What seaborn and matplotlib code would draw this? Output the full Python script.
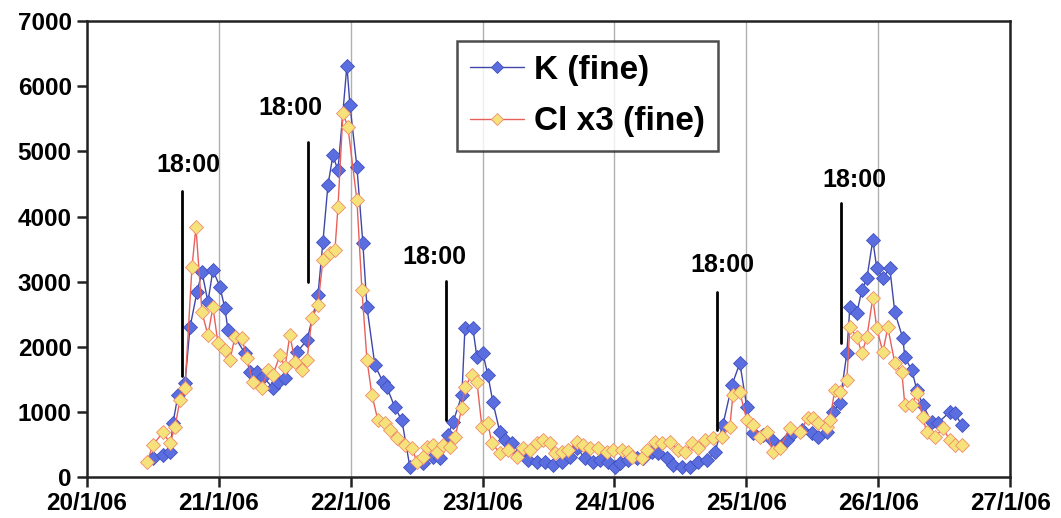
import numpy as np
import pandas as pd
import matplotlib
matplotlib.use("Agg")
import matplotlib.pyplot as plt
import seaborn as sns

# K (fine): time in fractional day of January 2006, concentration
k_day = [20.500, 20.576, 20.629, 20.652, 20.690, 20.743, 20.781, 20.834, 20.872, 20.917,
         20.955, 21.008, 21.046, 21.069, 21.122, 21.198, 21.236, 21.289, 21.334, 21.410,
         21.448, 21.501, 21.592, 21.668, 21.751, 21.789, 21.827, 21.865, 21.903, 21.971,
         21.994, 22.047, 22.092, 22.123, 22.183, 22.244, 22.274, 22.335, 22.388, 22.449,
         22.547, 22.623, 22.676, 22.737, 22.775, 22.843, 22.866, 22.926, 22.957, 23.002,
         23.040, 23.078, 23.131, 23.169, 23.222, 23.283, 23.343, 23.412, 23.472, 23.533,
         23.601, 23.662, 23.715, 23.776, 23.836, 23.889, 23.950, 24.003, 24.041, 24.102,
         24.170, 24.215, 24.284, 24.329, 24.397, 24.443, 24.511, 24.572, 24.632, 24.700,
         24.761, 24.822, 24.890, 24.951, 25.004, 25.049, 25.125, 25.193, 25.254, 25.307,
         25.353, 25.421, 25.497, 25.542, 25.610, 25.656, 25.709, 25.762, 25.785, 25.838,
         25.876, 25.914, 25.959, 25.989, 26.035, 26.088, 26.126, 26.187, 26.202, 26.255,
         26.293, 26.338, 26.406, 26.452, 26.543, 26.581, 26.634]
k_val = [290, 340, 380, 830, 1260, 1440, 2300, 2840, 3150, 2690,
         3180, 2920, 2590, 2260, 2150, 1900, 1610, 1610, 1540, 1370,
         1460, 1520, 1920, 2100, 2790, 3610, 4480, 4940, 4710, 6320,
         5710, 4760, 3590, 2610, 1720, 1460, 1380, 1070, 870, 150,
         210, 310, 290, 640, 840, 1260, 2290, 2290, 1840, 1900,
         1570, 1150, 690, 570, 520, 370, 260, 230, 230, 180,
         230, 310, 450, 290, 230, 260, 230, 150, 210, 260,
         290, 290, 380, 370, 290, 180, 150, 150, 230, 260,
         380, 800, 1410, 1750, 1070, 680, 640, 570, 460, 570,
         680, 720, 680, 610, 690, 1000, 1140, 1900, 2610, 2520,
         2870, 3050, 3640, 3210, 3050, 3210, 2530, 2130, 1840, 1640,
         1340, 1110, 840, 830, 1000, 980, 800]

# Cl x3 (fine)
cl_day = [20.455, 20.500, 20.576, 20.629, 20.667, 20.705, 20.743, 20.796, 20.826, 20.872,
          20.917, 20.955, 20.993, 21.046, 21.084, 21.122, 21.175, 21.213, 21.259, 21.327,
          21.372, 21.410, 21.463, 21.501, 21.539, 21.577, 21.630, 21.668, 21.706, 21.751,
          21.789, 21.842, 21.880, 21.903, 21.941, 21.979, 22.047, 22.085, 22.123, 22.161,
          22.206, 22.259, 22.297, 22.350, 22.411, 22.464, 22.502, 22.547, 22.578, 22.623,
          22.653, 22.699, 22.752, 22.790, 22.843, 22.866, 22.919, 22.957, 22.995, 23.040,
          23.070, 23.131, 23.192, 23.260, 23.305, 23.359, 23.412, 23.457, 23.510, 23.548,
          23.601, 23.647, 23.715, 23.760, 23.813, 23.874, 23.942, 23.988, 24.056, 24.102,
          24.132, 24.208, 24.246, 24.306, 24.359, 24.420, 24.481, 24.534, 24.587, 24.632,
          24.685, 24.746, 24.814, 24.875, 24.898, 24.951, 25.004, 25.049, 25.102, 25.155,
          25.201, 25.254, 25.330, 25.406, 25.466, 25.504, 25.542, 25.610, 25.633, 25.671,
          25.709, 25.762, 25.785, 25.838, 25.876, 25.914, 25.959, 25.989, 26.035, 26.073,
          26.126, 26.179, 26.202, 26.255, 26.293, 26.338, 26.368, 26.429, 26.490, 26.543,
          26.581, 26.634]
cl_val = [230, 490, 690, 520, 770, 1180, 1370, 3220, 3840, 2530,
          2180, 2610, 2060, 1950, 1800, 2150, 2130, 1830, 1460, 1370,
          1640, 1570, 1870, 1690, 2180, 1770, 1640, 1800, 2440, 2640,
          3330, 3440, 3480, 4140, 5590, 5370, 4250, 2870, 1800, 1260,
          870, 830, 720, 600, 490, 450, 230, 310, 460, 490,
          380, 490, 460, 610, 1060, 1380, 1570, 1460, 770, 830,
          520, 370, 410, 310, 450, 410, 520, 570, 520, 370,
          380, 410, 540, 490, 450, 450, 380, 410, 410, 380,
          310, 290, 410, 540, 520, 540, 410, 380, 520, 450,
          570, 600, 610, 770, 1260, 1300, 870, 800, 610, 690,
          380, 450, 750, 690, 910, 910, 830, 770, 870, 1340,
          1300, 1490, 2300, 2150, 1900, 2150, 2750, 2290, 1920, 2300,
          1750, 1610, 1110, 1110, 1290, 920, 690, 610, 750, 570,
          490, 490]

tick_days = [20, 21, 22, 23, 24, 25, 26, 27]
tick_labels = ["20/1/06", "21/1/06", "22/1/06", "23/1/06", "24/1/06", "25/1/06", "26/1/06", "27/1/06"]

# 18:00 markers: line x, line bottom, line top, label x, label y
mark_x = [20.720, 21.675, 22.722, 24.776, 25.716]
mark_lo = [1550, 2990, 870, 720, 2060]
mark_hi = [4390, 5140, 3010, 2840, 4210]
label_x = [20.766, 21.539, 22.638, 24.822, 25.822]
label_y = [4790, 5660, 3380, 3250, 4560]

df_k = pd.DataFrame({"day": k_day, "val": k_val})
df_cl = pd.DataFrame({"day": cl_day, "val": cl_val})

sns.set_style("white")
plt.rcParams["font.family"] = ["Liberation Sans", "DejaVu Sans"]
plt.rcParams["font.weight"] = "bold"
plt.rcParams["text.color"] = "black"
plt.rcParams["xtick.color"] = "black"
plt.rcParams["ytick.color"] = "black"

fig = plt.figure(figsize=(10.61, 5.18), dpi=100)
ax = fig.add_axes([0.082, 0.079, 0.870, 0.880])

sns.lineplot(data=df_k, x="day", y="val", ax=ax, sort=False, color="#3f48a8", linewidth=1.0,
             marker="D", markersize=7, markerfacecolor="#5b6ee0", markeredgecolor="#4050c0",
             markeredgewidth=0.6, label="K (fine)", zorder=3)
sns.lineplot(data=df_cl, x="day", y="val", ax=ax, sort=False, color="#e8605a", linewidth=1.0,
             marker="D", markersize=7, markerfacecolor="#f6e27a", markeredgecolor="#f08a6a",
             markeredgewidth=0.6, label="Cl x3 (fine)", zorder=4)

for x, lo, hi in zip(mark_x, mark_lo, mark_hi):
    ax.plot([x, x], [lo, hi], color="black", linewidth=2.0, zorder=5)
for x, y in zip(label_x, label_y):
    ax.text(x, y, "18:00", ha="center", va="center", fontsize=18, fontweight="bold",
            color="black", zorder=6)

ax.set_xlim(20, 27)
ax.set_ylim(0, 7000)
ax.set_xticks(tick_days)
ax.set_xticklabels(tick_labels)
ax.set_yticks(np.arange(0, 7001, 1000))
ax.set_xlabel("")
ax.set_ylabel("")
ax.grid(axis="x", color="#b0b0b0", linewidth=1.0)
ax.grid(axis="y", visible=False)
ax.tick_params(axis="both", direction="out", length=7, width=1.8, color="#222222",
               labelsize=17.5, labelcolor="black", bottom=True, left=True)
ax.tick_params(axis="x", pad=4)
ax.tick_params(axis="y", pad=4)
for lab in ax.get_xticklabels() + ax.get_yticklabels():
    lab.set_fontweight("bold")
for sp in ax.spines.values():
    sp.set_color("#222222")
    sp.set_linewidth(1.8)

leg = ax.legend(loc="upper left", bbox_to_anchor=(0.401, 0.956), frameon=True, fancybox=False,
                prop={"size": 24, "weight": "bold"}, handlelength=1.6, handletextpad=0.3,
                borderpad=0.4, labelspacing=0.62, borderaxespad=0)
leg.get_frame().set_edgecolor("#222222")
leg.get_frame().set_linewidth(1.8)
for h in leg.get_lines():
    h.set_markersize(6)

fig.savefig("out.png", dpi=100)
